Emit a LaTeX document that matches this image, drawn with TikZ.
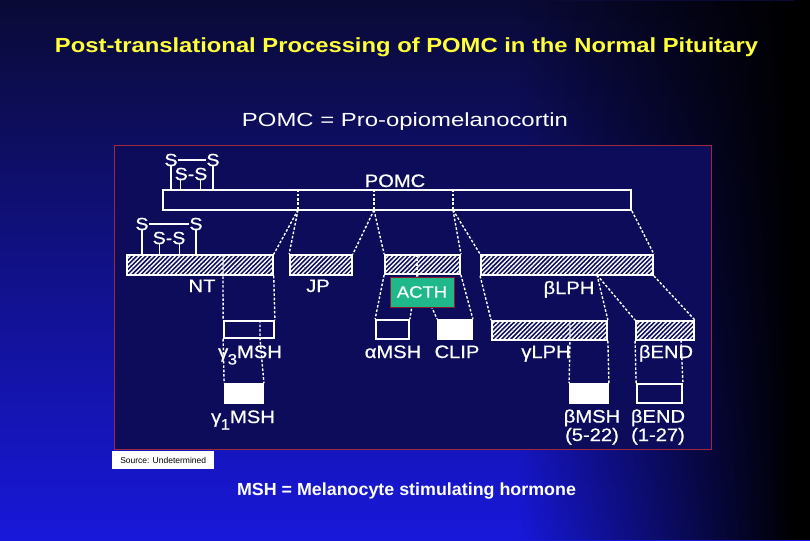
\documentclass[tikz,border=0pt]{standalone}
\usepackage{graphicx}
\usepackage{fontspec}
\setmainfont{Liberation Sans}
\newfontfamily\labf[FakeStretch=1.12,FakeBold=0.7]{Liberation Sans}
\usetikzlibrary{patterns.meta,fadings}
\definecolor{bgtop}{HTML}{0A0A36}
\definecolor{bgbot}{HTML}{1818DA}
\definecolor{panel}{HTML}{0C0C5A}
\definecolor{panelborder}{HTML}{A0283C}
\definecolor{ttl}{HTML}{FFFF3A}
\definecolor{acthgreen}{HTML}{1FB88A}
\definecolor{acthborder}{HTML}{8B1A2A}
\tikzfading[name=toright, left color=transparent!100, right color=transparent!0]
\newcommand{\lowsub}[1]{\kern-0.5pt\raisebox{-6.5pt}{\fontsize{15}{15}\selectfont #1}}
\begin{document}
\begin{tikzpicture}[x=1pt,y=-1pt,
  dots/.style={white, line width=1.4pt, dash pattern=on 2.6pt off 1.8pt},
  hbar/.style={draw=white, line width=1.8pt, inner sep=0pt, minimum height=20pt,
    pattern={Lines[angle=45,distance=3.2pt,line width=1.4pt]}, pattern color=white},
  obox/.style={draw=white, line width=1.8pt, inner sep=0pt, minimum height=19pt},
  wbox/.style={draw=white, fill=white, line width=1.8pt, inner sep=0pt, minimum height=19pt},
  lbl/.style={text=white, font=\labf\fontsize{18}{20}\selectfont, inner sep=0pt, anchor=base},
  ssym/.style={text=white, font=\labf\fontsize{17.5}{18}\selectfont, inner sep=0pt},
  sline/.style={white, line width=1.4pt}]
\useasboundingbox (0,0) rectangle (810,540);
% background
\shade[top color=bgtop, bottom color=bgbot] (0,0) rectangle (810,540);
\fill[black, path fading=toright] (520,0) rectangle (795,540);
\fill[black] (794,0) rectangle (810,540);
% panel
\draw[draw=panelborder, line width=0.9pt, fill=panel] (114,145) rectangle (711,449);
% texts outside the panel
\node[anchor=base, text=ttl, font=\bfseries\fontsize{20.4}{24}\selectfont, inner sep=0pt] (title) at (406.5,52.3)
  {\resizebox{703pt}{\height}{Post-translational Processing of POMC in the Normal Pituitary}};
\node[anchor=base, text=white, font=\fontsize{19}{22}\selectfont, inner sep=0pt] (sub) at (405,127)
  {\resizebox{326pt}{\height}{POMC = Pro-opiomelanocortin}};
\node[anchor=base, text=white, font=\bfseries\fontsize{17.5}{20}\selectfont, inner sep=0pt] (msh) at (406.5,495.5)
  {\resizebox{339pt}{\height}{MSH = Melanocyte stimulating hormone}};
\node[fill=white, anchor=north west, minimum width=102pt, minimum height=18pt, inner sep=0pt,
  text=black, font=\fontsize{8.5}{9}\selectfont] (src) at (112,451) {Source: Undetermined};
% POMC bar and S-S bridges
\node[obox, minimum width=468pt, minimum height=20pt] (pomc) at (397,200) {};
\node[lbl] (lpomc) at (395,187) {POMC};
\node[ssym] (s1) at (171,160) {S};
\node[ssym] (s2) at (213,160) {S};
\node[ssym] (ss1) at (191,174) {S-S};
\draw[sline] (s1.east) -- (s2.west);
\draw[sline] (s1.south) -- (s1.south |- pomc.north);
\draw[sline] (s2.south) -- (s2.south |- pomc.north);
\draw[sline] ([xshift=6pt]ss1.south west) -- ([xshift=6pt]ss1.south west |- pomc.north);
\draw[sline] ([xshift=-7pt]ss1.south east) -- ([xshift=-7pt]ss1.south east |- pomc.north);
% first row of fragments
\node[hbar, minimum width=146pt] (nt) at (200,265) {};
\node[hbar, minimum width=62pt] (jp) at (321,265) {};
\node[hbar, minimum width=75pt, minimum height=19pt] (acth) at (422.5,264.5) {};
\node[hbar, minimum width=172pt] (blph) at (567,265) {};
\node[lbl] (lnt) at (202,292) {NT};
\node[lbl] (ljp) at (318,292) {JP};
\node[lbl] (lblph) at (569,294) {βLPH};
\node[ssym] (s3) at (142,224) {S};
\node[ssym] (s4) at (196,224) {S};
\node[ssym] (ss2) at (169,238) {S-S};
\draw[sline] (s3.east) -- (s4.west);
\draw[sline] (s3.south) -- (s3.south |- nt.north);
\draw[sline] (s4.south) -- (s4.south |- nt.north);
\draw[sline] ([xshift=7pt]ss2.south west) -- ([xshift=7pt]ss2.south west |- nt.north);
\draw[sline] ([xshift=-6pt]ss2.south east) -- ([xshift=-6pt]ss2.south east |- nt.north);
% cleavage marks on POMC
\coordinate (k1) at (298,210);
\coordinate (k2) at (374,210);
\coordinate (k3) at (453,210);
\draw[dots] (k1 |- pomc.north) -- (k1);
\draw[dots] (k2 |- pomc.north) -- (k2);
\draw[dots] (k3 |- pomc.north) -- (k3);
\draw[dots] (k1) -- (nt.north east);
\draw[dots] (k1) -- (jp.north west);
\draw[dots] (k2) -- (jp.north east);
\draw[dots] (k2) -- (acth.north west);
\draw[dots] (k3) -- (acth.north east);
\draw[dots] (k3) -- (blph.north west);
\draw[dots] (pomc.south east) -- (blph.north east);
% second row
\node[obox, minimum width=50pt, minimum height=17pt] (g3) at (249,329.5) {};
\node[obox, minimum width=33pt] (amsh) at (392.5,329.5) {};
\node[wbox, minimum width=34pt] (clip) at (455,329.5) {};
\node[hbar, minimum width=115pt, minimum height=19pt] (glph) at (549.5,330.5) {};
\node[hbar, minimum width=58pt, minimum height=19pt] (bend) at (665,330.5) {};
% third row
\node[wbox, minimum width=38pt] (g1) at (244,393.5) {};
\node[wbox, minimum width=38pt] (bmsh) at (589,393.5) {};
\node[obox, minimum width=45pt] (bend2) at (659.5,393.5) {};
% NT -> gamma3 MSH -> gamma1 MSH
\coordinate (d1) at (223,275);
\draw[dots] (d1 |- nt.north) -- (d1) -- (g3.north west);
\draw[dots] (nt.south east) -- (g3.north east);
\coordinate (d2) at (260,338);
\draw[dots] (d2 |- g3.north) -- (d2) -- (g1.north east);
\draw[dots] (g3.south west) -- (g1.north west);
% ACTH -> alpha MSH, CLIP
\coordinate (d3) at (417,274);
\draw[dots] (d3 |- acth.north) -- (d3);
\draw[dots] (acth.south west) -- (amsh.north west);
\draw[dots] (d3) -- (amsh.north east);
\draw[dots] (d3) -- (clip.north west);
\draw[dots] (acth.south east) -- (clip.north east);
\node[fill=acthgreen, draw=acthborder, line width=0.8pt, minimum width=64pt, minimum height=30pt,
  inner sep=0pt, text=white, font=\labf\fontsize{16.5}{18}\selectfont] (acthbox) at (422,292) {ACTH};
% beta LPH -> gamma LPH, beta END
\coordinate (d4) at (597,275);
\draw[dots] (blph.south west) -- (glph.north west);
\draw[dots] (d4) -- (glph.north east);
\draw[dots] (d4) -- (bend.north west);
\draw[dots] (blph.south east) -- (bend.north east);
% gamma LPH -> beta MSH ; beta END -> beta END(1-27)
\coordinate (d5) at (570,340);
\draw[dots] (d5 |- glph.north) -- (d5) -- (bmsh.north west);
\draw[dots] (glph.south east) -- (bmsh.north east);
\coordinate (d6) at (681,340);
\draw[dots] (bend.south west) -- (bend2.north west);
\draw[dots] (d6) -- (bend2.north east);
% labels
\node[lbl] (lg3) at (250,358) {γ\lowsub{3}MSH};
\node[lbl] (lam) at (393,358) {αMSH};
\node[lbl] (lclip) at (457,358) {CLIP};
\node[lbl] (lglph) at (546,358) {γLPH};
\node[lbl] (lbend) at (666,358) {βEND};
\node[lbl] (lg1) at (243,423) {γ\lowsub{1}MSH};
\node[lbl] (lbm) at (592,422.5) {βMSH};
\node[lbl] (lbm2) at (592,441) {(5-22)};
\node[lbl] (lbe) at (658,422.5) {βEND};
\node[lbl] (lbe2) at (658,441) {(1-27)};
\end{tikzpicture}
\end{document}
